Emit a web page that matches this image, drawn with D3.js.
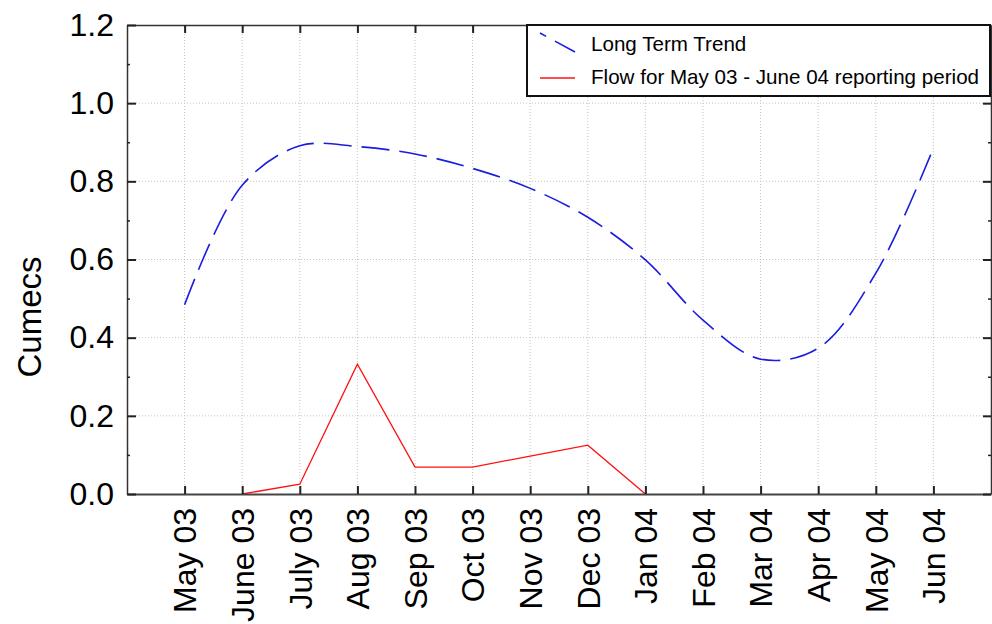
<!DOCTYPE html>
<html>
<head>
<meta charset="utf-8">
<script src="https://cdn.jsdelivr.net/npm/d3@7"></script>
<style>
    body { margin: 0; background: #fff; }
    text { font-family: "Liberation Sans", Arial, sans-serif; fill: #000; }
    .grid line { stroke: #c4c4c4; stroke-width: 1; stroke-dasharray: 1,2; }
    .trendline { fill: none; stroke: #1c1ce0; stroke-width: 1.6; stroke-dasharray: 28,10; }
    .flowline { fill: none; stroke: #ff1010; stroke-width: 1.3; }
</style>
</head>
<body>
<div id="chart"></div>
<script>
// month labels along the x axis
var months = ["May 03", "June 03", "July 03", "Aug 03", "Sep 03", "Oct 03", "Nov 03",
    "Dec 03", "Jan 04", "Feb 04", "Mar 04", "Apr 04", "May 04", "Jun 04"];

// long term trend, one value per month
var trendValues = [0.484, 0.79, 0.891, 0.889, 0.870, 0.833, 0.782,
    0.708, 0.599, 0.445, 0.345, 0.373, 0.565, 0.885];

// flow for the reporting period, June 03 to Jan 04
var flowMonths = ["June 03", "July 03", "Aug 03", "Sep 03", "Oct 03", "Nov 03", "Dec 03", "Jan 04"];
var flowValues = [0.0, 0.025, 0.332, 0.069, 0.069, 0.097, 0.125, 0.0];

var yTicks = [0, 0.2, 0.4, 0.6, 0.8, 1.0, 1.2];
var yMinorTicks = [0.1, 0.3, 0.5, 0.7, 0.9, 1.1];

var legendNames = ["Long Term Trend", "Flow for May 03 - June 04 reporting period"];

// plot box
var box = { left: 127, right: 991, top: 25, bottom: 494 };

var svg = d3.select("#chart").append("svg")
    .attr("width", 992)
    .attr("height", 624);

var x = d3.scaleLinear()
    .domain([-1, months.length])
    .range([box.left, box.right]);

var y = d3.scaleLinear()
    .domain([0, 1.2])
    .range([box.bottom, box.top]);

// dotted grid
var grid = svg.append("g").attr("class", "grid");
grid.selectAll(".vgrid")
    .data(months)
    .enter()
    .append("line")
    .attr("x1", function (d, i) { return x(i); })
    .attr("x2", function (d, i) { return x(i); })
    .attr("y1", box.top)
    .attr("y2", box.bottom);
grid.selectAll(".hgrid")
    .data(yTicks.slice(1, -1))
    .enter()
    .append("line")
    .attr("x1", box.left)
    .attr("x2", box.right)
    .attr("y1", function (d) { return y(d); })
    .attr("y2", function (d) { return y(d); });

// trend line
var trendline = d3.line()
    .x(function (d, i) { return x(i); })
    .y(function (d) { return y(d); })
    .curve(d3.curveCatmullRom);

svg.append("path")
    .datum(trendValues)
    .attr("class", "trendline")
    .attr("d", trendline);

// flow line
var flowline = d3.line()
    .x(function (d, i) { return x(months.indexOf(flowMonths[i])); })
    .y(function (d) { return y(d); });

svg.append("path")
    .datum(flowValues)
    .attr("class", "flowline")
    .attr("d", flowline);

// axes, ticks on the inside, mirrored on top and right
var tickFormat = function (i) { return months[i]; };

svg.append("g")
    .attr("transform", "translate(0," + box.bottom + ")")
    .call(d3.axisBottom(x)
        .tickValues(d3.range(months.length))
        .tickSize(-8)
        .tickSizeOuter(0)
        .tickFormat(tickFormat))
    .call(function (g) {
        g.select(".domain").attr("stroke", "#444").attr("stroke-width", 2);
        g.selectAll(".tick line").attr("stroke", "#222").attr("stroke-width", 2);
        g.selectAll("text")
            .style("font-size", "32px")
            .style("text-anchor", "end")
            .attr("transform", "rotate(-90)")
            .attr("x", -14)
            .attr("y", 0)
            .attr("dy", "0.35em");
    });

svg.append("g")
    .attr("transform", "translate(0," + box.top + ")")
    .call(d3.axisTop(x)
        .tickValues(d3.range(months.length))
        .tickSize(-8)
        .tickSizeOuter(0)
        .tickFormat(""))
    .call(function (g) {
        g.select(".domain").attr("stroke", "#333").attr("stroke-width", 1.5);
        g.selectAll(".tick line").attr("stroke", "#222").attr("stroke-width", 2);
    });

svg.append("g")
    .attr("transform", "translate(" + box.left + ",0)")
    .call(d3.axisLeft(y)
        .tickValues(yTicks)
        .tickSize(-9)
        .tickSizeOuter(0)
        .tickPadding(13)
        .tickFormat(d3.format(".1f")))
    .call(function (g) {
        g.select(".domain").attr("stroke", "#333").attr("stroke-width", 1.5);
        g.selectAll(".tick line").attr("stroke", "#222").attr("stroke-width", 2);
        g.selectAll("text").style("font-size", "32px");
    });

svg.append("g")
    .attr("transform", "translate(" + box.left + ",0)")
    .call(d3.axisLeft(y)
        .tickValues(yMinorTicks)
        .tickSize(-3)
        .tickSizeOuter(0)
        .tickFormat(""))
    .call(function (g) {
        g.select(".domain").remove();
        g.selectAll(".tick line").attr("stroke", "#222").attr("stroke-width", 1.5);
    });

svg.append("g")
    .attr("transform", "translate(" + box.right + ",0)")
    .call(d3.axisRight(y)
        .tickValues(yTicks)
        .tickSize(-8)
        .tickSizeOuter(0)
        .tickFormat(""))
    .call(function (g) {
        g.select(".domain").attr("stroke", "#333").attr("stroke-width", 1.5);
        g.selectAll(".tick line").attr("stroke", "#222").attr("stroke-width", 2);
    });

svg.append("g")
    .attr("transform", "translate(" + box.right + ",0)")
    .call(d3.axisRight(y)
        .tickValues(yMinorTicks)
        .tickSize(-3)
        .tickSizeOuter(0)
        .tickFormat(""))
    .call(function (g) {
        g.select(".domain").remove();
        g.selectAll(".tick line").attr("stroke", "#222").attr("stroke-width", 1.5);
    });

// y label
svg.append("text")
    .attr("transform", "rotate(-90)")
    .attr("x", -317)
    .attr("y", 29)
    .attr("dy", "0.35em")
    .style("text-anchor", "middle")
    .style("font-size", "33px")
    .text("Cumecs");

// legend
var legend = svg.append("g");
legend.append("rect")
    .attr("x", 527)
    .attr("y", 25)
    .attr("width", 463)
    .attr("height", 71)
    .attr("fill", "#fff")
    .attr("stroke", "#111")
    .attr("stroke-width", 2);

legend.append("line")
    .attr("class", "trendline")
    .attr("x1", 540).attr("y1", 33)
    .attr("x2", 575).attr("y2", 52)
    .style("stroke-dasharray", "7,10,30");
legend.append("line")
    .attr("class", "flowline")
    .attr("x1", 540).attr("y1", 78)
    .attr("x2", 575).attr("y2", 78);

legend.selectAll(".legend")
    .data(legendNames)
    .enter()
    .append("text")
    .attr("class", "legend")
    .attr("x", 591)
    .attr("y", function (d, i) { return 51 + 33 * i; })
    .style("font-size", "20.6px")
    .text(function (d) { return d; });
</script>
</body>
</html>
